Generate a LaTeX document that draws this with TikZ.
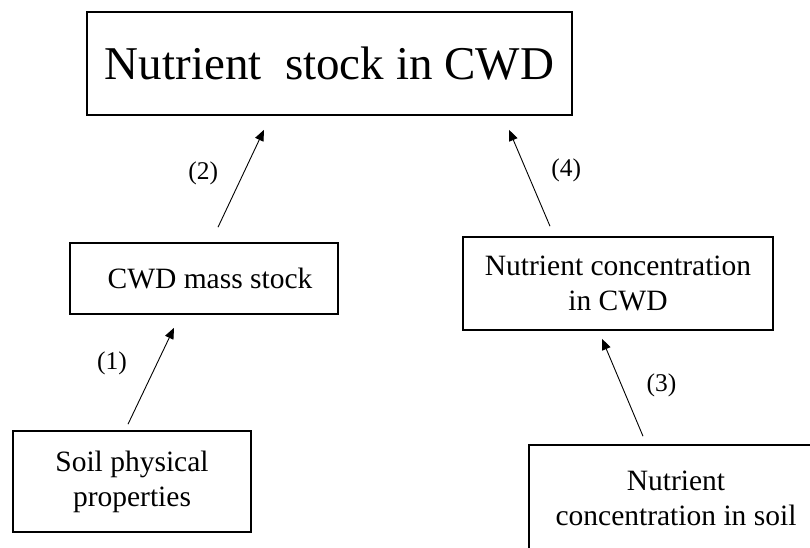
\documentclass[tikz,border=0pt]{standalone}
\usepackage{fontspec}
\setmainfont{Liberation Serif}
\usepackage{tikz}
\usetikzlibrary{arrows.meta}

\begin{document}
\begin{tikzpicture}[x=1pt, y=-1pt, font=\fontsize{29.5}{35}\selectfont,
  box/.style={draw=black, line width=1.6pt, align=center, inner sep=0pt, fill=white},
  arr/.style={-{Triangle[length=11pt, width=9pt]}, line width=0.9pt, draw=black},
  step label/.style={font=\fontsize{25.5}{28}\selectfont, inner sep=0pt}]
  \useasboundingbox (0,0) rectangle (810,547);
  \node[box, minimum width=485pt, minimum height=103pt, font=\fontsize{47}{50}\selectfont] (stock) at (329.5,63.5) {Nutrient~ stock in CWD};
  \node[box, minimum width=268pt, minimum height=71pt] (mass) at (204,278.5) {\hspace{12pt}CWD mass stock};
  \node[box, minimum width=310pt, minimum height=93pt] (conc) at (618,283.5) {Nutrient concentration\\in CWD};
  \node[box, minimum width=238pt, minimum height=101pt] (soil) at (132,481.5) {Soil physical\\properties};
  \node[box, minimum width=294pt, minimum height=107pt] (soilconc) at (676,498.5) {Nutrient\\concentration in soil};
  \draw[arr] ([xshift=-4pt, yshift=6pt]soil.north) -- node[step label, pos=0.63, xshift=-45pt]{(1)} ([xshift=-30pt, yshift=-13pt]mass.south);
  \draw[arr] ([xshift=14pt, yshift=15pt]mass.north) -- node[step label, pos=0.55, xshift=-40pt]{(2)} ([xshift=-65.5pt, yshift=-14pt]stock.south);
  \draw[arr] ([xshift=-33pt, yshift=8pt]soilconc.north) -- node[step label, pos=0.525, xshift=40pt]{(3)} ([xshift=-16pt, yshift=-8pt]conc.south);
  \draw[arr] ([xshift=-68pt, yshift=10pt]conc.north) -- node[step label, pos=0.58, xshift=40pt]{(4)} ([xshift=179.5pt, yshift=-14pt]stock.south);
\end{tikzpicture}
\end{document}
